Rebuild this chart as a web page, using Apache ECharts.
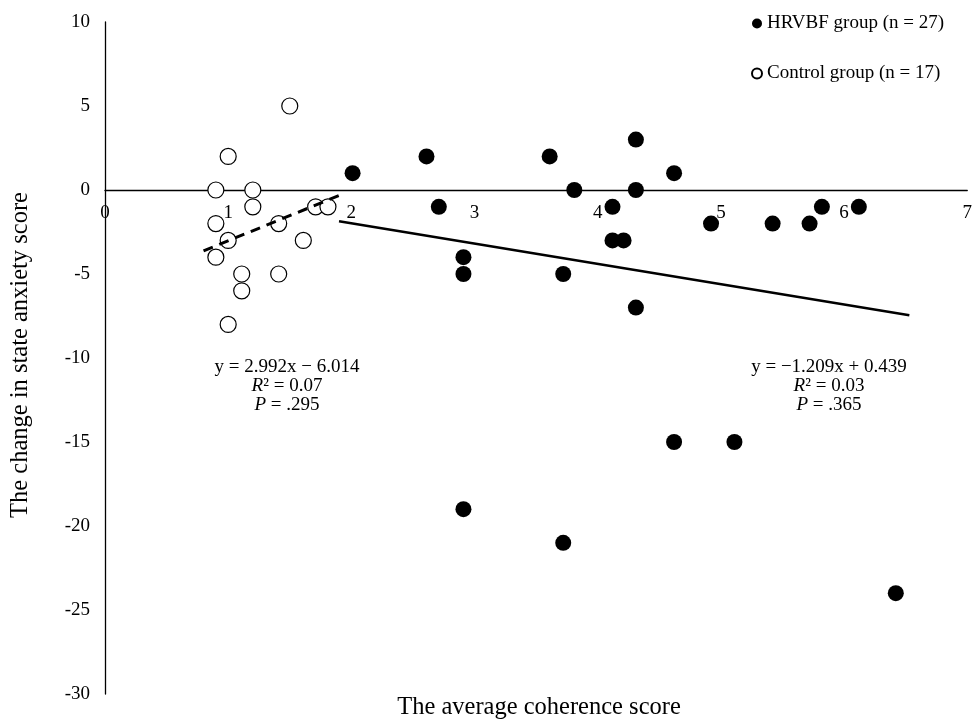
<!DOCTYPE html>
<html>
<head>
<meta charset="utf-8">
<script src="https://cdn.jsdelivr.net/npm/echarts@6/dist/echarts.min.js"></script>
<style>
  html, body { margin: 0; padding: 0; background: #fff; }
  #chart { width: 975px; height: 724px; }
</style>
</head>
<body>
<div id="chart"></div>
<script>
// HRVBF group (filled points): [coherence, change in state anxiety]
var hrvbfPoints = [
  [2.01, 1], [2.61, 2], [2.71, -1], [2.91, -4], [2.91, -5], [3.61, 2],
  [3.81, 0], [3.72, -5], [4.31, 3], [4.31, 0], [4.12, -1], [4.12, -3],
  [4.21, -3], [4.31, -7], [4.62, 1], [4.92, -2], [5.42, -2], [5.72, -2],
  [5.82, -1], [6.12, -1], [4.62, -15], [5.11, -15], [2.91, -19], [3.72, -21],
  [6.42, -24]
];
// Control group (open points)
var controlPoints = [
  [1.5, 5], [1.0, 2], [0.9, 0], [1.2, 0], [1.2, -1], [1.71, -1],
  [1.81, -1], [0.9, -2], [1.41, -2], [1.0, -3], [1.61, -3], [0.9, -4],
  [1.11, -5], [1.41, -5], [1.11, -6], [1.0, -8]
];
// trend lines: [slope, intercept, xStart, xEnd]
var hrvbfTrend = [-1.209, 0.439, 1.9, 6.53];
var controlTrend = [2.992, -6.014, 0.8, 1.915];

var yTicks = [-30, -25, -20, -15, -10, -5, 0, 5, 10];
var xTicks = [0, 1, 2, 3, 4, 5, 6, 7];

function trendLine(t) {
  return [[t[2], t[0] * t[2] + t[1]], [t[3], t[0] * t[3] + t[1]]];
}

var serif = '"Liberation Serif", "DejaVu Serif", serif';
var gridTop = 22, gridBottom = 30, chartH = 724;
var yMin = yTicks[0], yMax = yTicks[yTicks.length - 1];
// move the x axis (line and labels) up to y = 0
var plotH = chartH - gridTop - gridBottom;
var xAxisOffset = -plotH * (0 - yMin) / (yMax - yMin);

var myChart = echarts.init(document.getElementById('chart'));

var rich = { i: { fontStyle: 'italic', fontFamily: serif, fontSize: 19 } };
function note(x, y, text) {
  return { type: 'text', style: { x: x, y: y, text: text, textAlign: 'center', textVerticalAlign: 'middle', font: '19px ' + serif, fill: '#000', rich: rich } };
}

var option = {
  animation: false,
  backgroundColor: '#fff',
  textStyle: { fontFamily: serif, color: '#000' },
  grid: { left: 105, right: 5, top: gridTop, bottom: gridBottom },
  legend: {
    data: ['HRVBF group (n = 27)', 'Control group (n = 17)'],
    orient: 'vertical',
    left: 746,
    top: 9,
    itemWidth: 10,
    itemHeight: 10,
    itemGap: 31,
    textStyle: { fontFamily: serif, fontSize: 19, color: '#000' }
  },
  xAxis: {
    type: 'value',
    min: xTicks[0],
    max: xTicks[xTicks.length - 1],
    interval: 1,
    offset: xAxisOffset,
    axisLine: { onZero: false, lineStyle: { color: '#000', width: 1.3 } },
    axisTick: { show: false },
    splitLine: { show: false },
    axisLabel: { fontFamily: serif, fontSize: 19, color: '#000', margin: 14, showMaxLabel: true }
  },
  yAxis: {
    type: 'value',
    min: yMin,
    max: yMax,
    interval: 5,
    axisLine: { show: true, onZero: false, lineStyle: { color: '#000', width: 1.3 } },
    axisTick: { show: false },
    splitLine: { show: false },
    axisLabel: { fontFamily: serif, fontSize: 19, color: '#000', margin: 15 }
  },
  graphic: [
    { type: 'text', style: { x: 539, y: 708, text: 'The average coherence score', textAlign: 'center', textVerticalAlign: 'middle', font: '24.5px ' + serif, fill: '#000' } },
    { type: 'text', rotation: Math.PI / 2, x: 21, y: 355, style: { x: 0, y: 0, text: 'The change in state anxiety score', textAlign: 'center', textVerticalAlign: 'middle', font: '24.5px ' + serif, fill: '#000' } },
    note(287, 367, 'y = 2.992x \u2212 6.014'),
    note(287, 386, '{i|R}\u00b2 = 0.07'),
    note(287, 405, '{i|P} = .295'),
    note(829, 367, 'y = \u22121.209x + 0.439'),
    note(829, 386, '{i|R}\u00b2 = 0.03'),
    note(829, 405, '{i|P} = .365')
  ],
  series: [
    {
      name: 'HRVBF group (n = 27)',
      type: 'scatter',
      symbol: 'circle',
      symbolSize: 16,
      itemStyle: { color: '#000', opacity: 1 },
      data: hrvbfPoints,
      z: 5
    },
    {
      name: 'Control group (n = 17)',
      type: 'scatter',
      symbol: 'circle',
      symbolSize: 16,
      itemStyle: { color: '#fff', borderColor: '#000', borderWidth: 1.2, opacity: 1 },
      data: controlPoints,
      z: 5
    },
    {
      name: 'hrvbf trend',
      type: 'line',
      showSymbol: false,
      lineStyle: { color: '#000', width: 2.5 },
      data: trendLine(hrvbfTrend),
      z: 3
    },
    {
      name: 'control trend',
      type: 'line',
      showSymbol: false,
      lineStyle: { color: '#000', width: 3, type: [10, 7] },
      data: trendLine(controlTrend),
      z: 6
    }
  ]
};
myChart.setOption(option);
</script>
</body>
</html>
